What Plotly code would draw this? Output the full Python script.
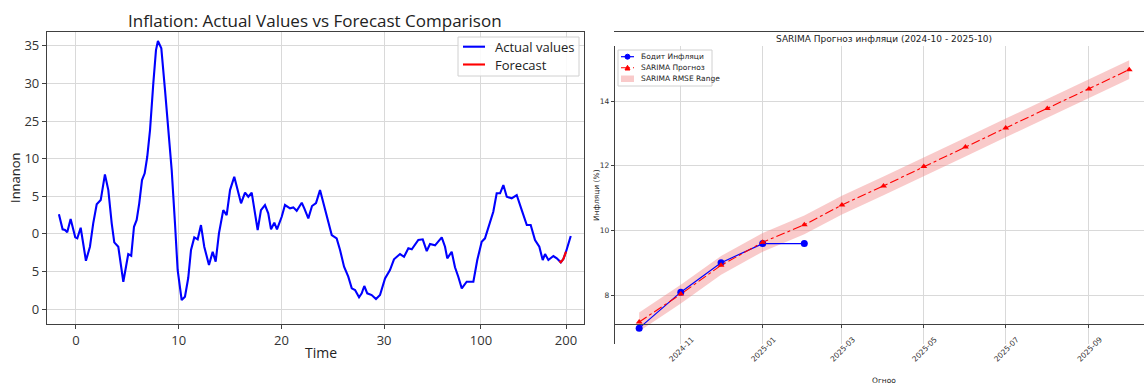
import plotly.graph_objects as go

# ---------------- Left panel: inflation series and forecast ----------------
time_actual = [-1.66, -1.30, -1.07, -0.85, -0.52, -0.32, -0.07, 0.13, 0.46, 0.65,
               0.97, 1.36, 1.68, 2.02, 2.41, 2.82, 3.15, 3.48, 3.73, 4.12,
               4.35, 4.61, 4.87, 5.09, 5.38, 5.65, 5.91, 6.16, 6.43, 6.69,
               6.94, 7.21, 7.53, 7.79, 7.98, 8.31, 8.67, 8.99, 9.32, 9.64,
               9.90, 10.29, 10.61, 10.93, 11.20, 11.52, 11.85, 12.17, 12.49, 12.95,
               13.31, 13.60, 13.92, 14.34, 14.67, 15.00, 15.41, 15.74, 16.07, 16.46,
               16.78, 17.11, 17.43, 17.69, 18.01, 18.40, 18.72, 18.99, 19.31, 19.57,
               20.03, 20.35, 20.84, 21.16, 21.49, 21.98, 22.23, 22.62, 22.98, 23.37,
               23.76, 24.10, 24.41, 24.90, 25.38, 25.71, 26.10, 26.51, 26.85, 27.17,
               27.56, 27.82, 28.07, 28.36, 28.79, 29.21, 29.60, 30.09, 30.57, 30.96,
               31.55, 31.94, 32.36, 32.69, 33.33, 33.76, 34.15, 34.47, 34.96, 35.61,
               35.93, 36.15, 36.58, 36.90, 37.22, 37.56, 38.04, 38.69, 39.07, 39.50,
               39.82, 40.24, 40.63, 40.96, 41.29, 41.61, 41.94, 42.42, 42.91, 43.40,
               43.89, 44.27, 44.69, 45.11, 45.44, 45.67, 45.99, 46.48, 46.81, 47.20,
               47.45, 47.71, 48.17]
inflation_actual = [12.59, 10.60, 10.51, 10.20, 11.97, 10.94, 9.53, 9.40, 10.81, 9.18,
                    6.42, 8.28, 11.40, 13.92, 14.49, 17.91, 15.82, 11.40, 8.87, 8.28,
                    6.08, 3.63, 5.62, 7.31, 7.09, 10.94, 11.84, 14.06, 17.15, 18.05,
                    20.25, 23.80, 30.01, 34.44, 35.64, 34.67, 29.12, 24.24, 18.48, 11.40,
                    5.19, 1.20, 1.64, 4.12, 7.85, 9.53, 9.27, 11.17, 8.28, 5.85,
                    7.62, 6.29, 10.07, 13.16, 12.50, 15.82, 17.59, 15.82, 14.06, 15.47,
                    14.93, 15.47, 12.73, 10.51, 13.16, 13.83, 12.73, 10.60, 11.48, 10.60,
                    12.27, 13.83, 13.39, 13.52, 13.07, 14.14, 13.39, 12.06, 13.70, 14.10,
                    15.82, 13.96, 12.50, 9.84, 9.40, 7.85, 5.62, 4.30, 2.75, 2.53,
                    1.56, 2.09, 3.06, 2.09, 1.86, 1.33, 1.86, 4.08, 5.19, 6.61,
                    7.31, 6.95, 8.07, 7.94, 9.18, 9.27, 7.71, 8.64, 8.47, 9.53,
                    8.28, 6.74, 7.62, 5.55, 4.30, 2.75, 3.63, 3.63, 6.52, 8.95,
                    9.40, 11.40, 12.94, 15.39, 15.39, 16.49, 14.93, 14.72, 15.16, 13.16,
                    11.17, 11.17, 9.18, 8.28, 6.52, 7.31, 6.52, 7.05, 6.74, 6.21,
                    6.65, 7.62, 9.71]
time_forecast = [47.06, 47.20, 47.45, 47.71]
inflation_forecast = [6.38, 6.21, 6.65, 7.62]

left_ytick_vals = [0, 5, 10, 15, 20, 25, 30, 35]
left_ytick_text = ["0", "5", "0", "5", "10", "25", "30", "35"]
left_xtick_vals = [0, 10, 20, 30, 39.43, 47.71]
left_xtick_text = ["0", "10", "20", "30", "100", "200"]
left_legend_labels = ["Actual values", "Forecast"]

# ---------------- Right panel: SARIMA forecast ----------------
actual_dates = ["2024-10-01", "2024-11-01", "2024-12-01", "2025-01-01", "2025-02-01"]
actual_infl = [6.99, 8.10, 9.01, 9.60, 9.60]

forecast_dates = ["2024-10-01", "2024-11-01", "2024-12-01", "2025-01-01", "2025-02-01",
                  "2025-03-01", "2025-04-01", "2025-05-01", "2025-06-01", "2025-07-01",
                  "2025-08-01", "2025-09-01", "2025-10-01"]
forecast_infl = [7.18, 8.04, 8.93, 9.64, 10.18, 10.79, 11.38, 11.98, 12.58, 13.17,
                 13.77, 14.37, 14.97]
rmse = 0.29
band_upper = [v + rmse for v in forecast_infl]
band_lower = [v - rmse for v in forecast_infl]

right_legend_labels = ["Бодит Инфляци", "SARIMA Прогноз", "SARIMA RMSE Range"]

W, H = 1144, 385
BLUE = "#0000ff"
RED = "#ff0000"
BAND = "rgba(240,128,128,0.42)"
GRID = "#d9d9d9"
LFONT = "Open Sans, Noto Sans, sans-serif"
RFONT = "DejaVu Sans, sans-serif"


def px(x):
    return x / W


def py(y):
    return (H - y) / H


fig = go.Figure()

# left panel traces
fig.add_trace(go.Scatter(x=time_actual, y=inflation_actual, mode="lines",
                         line=dict(color=BLUE, width=2.1), name=left_legend_labels[0],
                         xaxis="x", yaxis="y"))
fig.add_trace(go.Scatter(x=time_forecast, y=inflation_forecast, mode="lines",
                         line=dict(color=RED, width=2.1), name=left_legend_labels[1],
                         xaxis="x", yaxis="y"))

# right panel traces
fig.add_trace(go.Scatter(x=forecast_dates, y=band_upper, mode="lines",
                         line=dict(width=0, color="rgba(0,0,0,0)"),
                         hoverinfo="skip", xaxis="x2", yaxis="y2"))
fig.add_trace(go.Scatter(x=forecast_dates, y=band_lower, mode="lines",
                         line=dict(width=0, color="rgba(0,0,0,0)"), fill="tonexty",
                         fillcolor=BAND, name=right_legend_labels[2],
                         xaxis="x2", yaxis="y2"))
fig.add_trace(go.Scatter(x=actual_dates, y=actual_infl, mode="lines+markers",
                         line=dict(color=BLUE, width=1.2),
                         marker=dict(symbol="circle", size=7, color=BLUE),
                         name=right_legend_labels[0], xaxis="x2", yaxis="y2"))
fig.add_trace(go.Scatter(x=forecast_dates, y=forecast_infl, mode="lines+markers",
                         line=dict(color=RED, width=1.1, dash="dashdot"),
                         marker=dict(symbol="triangle-up", size=6, color=RED),
                         name=right_legend_labels[1], xaxis="x2", yaxis="y2"))

# compact inset legend boxes (matplotlib-style)
shapes = [
    # left panel legend
    dict(type="rect", xref="paper", yref="paper", x0=px(458), x1=px(579), y0=py(76), y1=py(37),
         line=dict(color="#d0d0d0", width=1), fillcolor="rgba(255,255,255,0.85)", layer="above"),
    dict(type="line", xref="paper", yref="paper", x0=px(463), x1=px(485), y0=py(46.7), y1=py(46.7),
         line=dict(color=BLUE, width=2.1), layer="above"),
    dict(type="line", xref="paper", yref="paper", x0=px(463), x1=px(485), y0=py(64.5), y1=py(64.5),
         line=dict(color=RED, width=2.1), layer="above"),
    # right panel legend
    dict(type="rect", xref="paper", yref="paper", x0=px(618), x1=px(712), y0=py(86), y1=py(50),
         line=dict(color="#d0d0d0", width=1), fillcolor="rgba(255,255,255,0.85)", layer="above"),
    dict(type="line", xref="paper", yref="paper", x0=px(621), x1=px(634), y0=py(56.7), y1=py(56.7),
         line=dict(color=BLUE, width=1.2), layer="above"),
    dict(type="circle", xref="paper", yref="paper", x0=px(625), x1=px(630), y0=py(59.2), y1=py(54.2),
         line=dict(color=BLUE, width=1), fillcolor=BLUE, layer="above"),
    dict(type="line", xref="paper", yref="paper", x0=px(621), x1=px(634), y0=py(67.7), y1=py(67.7),
         line=dict(color=RED, width=1.1, dash="dashdot"), layer="above"),
    dict(type="path", xref="paper", yref="paper",
         path=f"M {px(625)},{py(70)} L {px(630)},{py(70)} L {px(627.5)},{py(65.3)} Z",
         line=dict(color=RED, width=1), fillcolor=RED, layer="above"),
    dict(type="rect", xref="paper", yref="paper", x0=px(621), x1=px(634), y0=py(82), y1=py(75.5),
         line=dict(width=0), fillcolor=BAND, layer="above"),
]
legend_texts = [
    dict(text=lbl, x=px(493), y=py(yy), xref="paper", yref="paper", showarrow=False,
         xanchor="left", yanchor="middle", font=dict(family=LFONT, size=13, color="#222"))
    for lbl, yy in zip(left_legend_labels, [46.7, 64.5])
] + [
    dict(text=lbl, x=px(639), y=py(yy), xref="paper", yref="paper", showarrow=False,
         xanchor="left", yanchor="middle", font=dict(family=RFONT, size=7.5, color="#222"))
    for lbl, yy in zip(right_legend_labels, [56.7, 67.7, 78.7])
]

fig.update_layout(
    width=W, height=H,
    margin=dict(l=0, r=0, t=0, b=0),
    paper_bgcolor="white", plot_bgcolor="white",
    showlegend=False,
    xaxis=dict(domain=[px(47), px(584)], range=[-2.82, 49.46],
               tickmode="array", tickvals=left_xtick_vals, ticktext=left_xtick_text,
               showgrid=True, gridcolor=GRID, gridwidth=1, zeroline=False,
               showline=True, linecolor="#404040", linewidth=1.2, mirror=True,
               ticks="outside", ticklen=4, tickcolor="#404040",
               tickfont=dict(family=LFONT, size=13, color="#333")),
    yaxis=dict(domain=[py(324), py(32)], range=[-1.99, 36.84],
               tickmode="array", tickvals=left_ytick_vals, ticktext=left_ytick_text,
               showgrid=True, gridcolor=GRID, gridwidth=1, zeroline=False,
               showline=True, linecolor="#404040", linewidth=1.2, mirror=True,
               ticks="outside", ticklen=4, tickcolor="#404040",
               tickfont=dict(family=LFONT, size=13, color="#333")),
    xaxis2=dict(domain=[px(615), 1.0], type="date",
                range=["2024-09-13", "2025-10-12"],
                tick0="2024-11-01", dtick="M2", tickformat="%Y-%m", tickangle=-45,
                ticklabelshift=11, ticklabelstandoff=4,
                showgrid=True, gridcolor=GRID, gridwidth=1, zeroline=False,
                showline=True, linecolor="#404040", linewidth=1.2, mirror=True,
                ticks="outside", ticklen=3, tickcolor="#404040",
                tickfont=dict(family=RFONT, size=7.5, color="#333")),
    yaxis2=dict(domain=[py(344), py(46)], range=[6.5, 15.7],
                anchor="x2", tickmode="array", tickvals=[8, 10, 12, 14],
                showgrid=True, gridcolor=GRID, gridwidth=1, zeroline=False,
                showline=True, linecolor="#404040", linewidth=1.2, mirror=False,
                ticks="outside", ticklen=3, tickcolor="#404040",
                tickfont=dict(family=RFONT, size=7.5, color="#333")),
    shapes=shapes,
    annotations=[
        dict(text="Inflation: Actual Values vs Forecast Comparison", x=px(315), y=py(20),
             xref="paper", yref="paper", showarrow=False, xanchor="center", yanchor="middle",
             font=dict(family=LFONT, size=17, color="#222")),
        dict(text="Time", x=px(321), y=py(352), xref="paper", yref="paper",
             showarrow=False, xanchor="center", yanchor="middle",
             font=dict(family=LFONT, size=14, color="#222")),
        dict(text="Innanon", x=px(15), y=py(178), xref="paper", yref="paper",
             showarrow=False, textangle=-90, xanchor="center", yanchor="middle",
             font=dict(family=LFONT, size=13, color="#222")),
        dict(text="SARIMA Прогноз инфляци (2024-10 - 2025-10)", x=px(884), y=py(39),
             xref="paper", yref="paper", showarrow=False, xanchor="center", yanchor="middle",
             font=dict(family=RFONT, size=9, color="#222")),
        dict(text="Огноо", x=px(884), y=py(380), xref="paper", yref="paper",
             showarrow=False, xanchor="center", yanchor="middle",
             font=dict(family=RFONT, size=7.5, color="#222")),
        dict(text="Инфляци (%)", x=px(596), y=py(195), xref="paper", yref="paper",
             showarrow=False, textangle=-90, xanchor="center", yanchor="middle",
             font=dict(family=RFONT, size=7.5, color="#222")),
    ] + legend_texts,
)

fig.write_html("out.html")
